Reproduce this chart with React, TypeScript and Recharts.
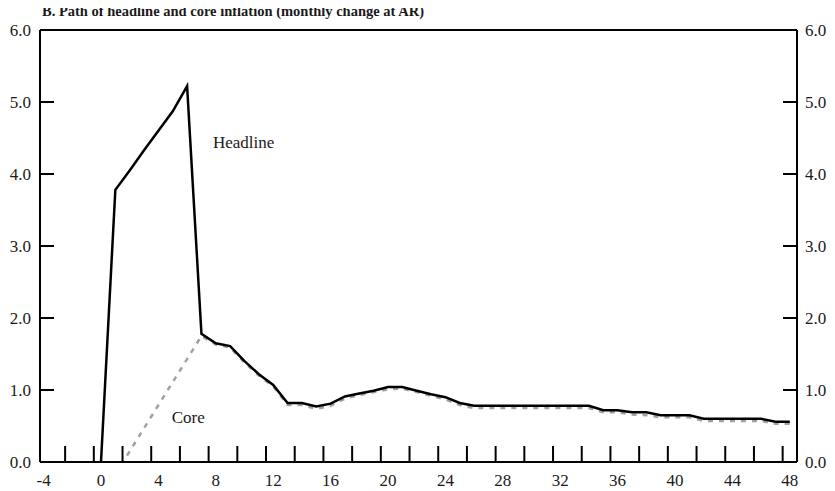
import React from 'react';
import { LineChart, Line, XAxis, YAxis, ReferenceLine, ReferenceDot } from 'recharts';

const months = [0, 1, 2, 3, 4, 5, 6, 7, 8, 9, 10, 11, 12, 13, 14, 15, 16, 17, 18, 19, 20, 21, 22, 23, 24, 25, 26, 27, 28, 29, 30, 31, 32, 33, 34, 35, 36, 37, 38, 39, 40, 41, 42, 43, 44, 45, 46, 47, 48];

const headline = [0, 3.78, 4.05, 4.33, 4.6, 4.87, 5.22, 1.78, 1.65, 1.61, 1.4, 1.22, 1.07, 0.82, 0.82, 0.77, 0.81, 0.91, 0.95, 0.99, 1.04, 1.04, 0.99, 0.94, 0.9, 0.82, 0.78, 0.78, 0.78, 0.78, 0.78, 0.78, 0.78, 0.78, 0.78, 0.72, 0.72, 0.69, 0.69, 0.65, 0.65, 0.65, 0.6, 0.6, 0.6, 0.6, 0.6, 0.56, 0.56];

const core = [null, -0.17, 0.15, 0.47, 0.79, 1.11, 1.43, 1.75, 1.63, 1.59, 1.38, 1.2, 1.05, 0.79, 0.79, 0.74, 0.78, 0.88, 0.93, 0.97, 1.01, 1.02, 0.97, 0.92, 0.87, 0.79, 0.75, 0.75, 0.75, 0.75, 0.75, 0.75, 0.75, 0.75, 0.75, 0.69, 0.69, 0.66, 0.65, 0.62, 0.62, 0.62, 0.57, 0.57, 0.57, 0.57, 0.57, 0.53, 0.53];

const xLabelTicks = [-4, 0, 4, 8, 12, 16, 20, 24, 28, 32, 36, 40, 44, 48];
const xMarkTicks = [-2.5, -0.5, 1.5, 3.5, 5.5, 7.5, 9.5, 11.5, 13.5, 15.5, 17.5, 19.5, 21.5, 23.5, 25.5, 27.5, 29.5, 31.5, 33.5, 35.5, 37.5, 39.5, 41.5, 43.5, 45.5, 47.5];
const yTicks = [0, 1, 2, 3, 4, 5, 6];

const title = 'B. Path of headline and core inflation (monthly change at AR)';

const data = months.map((m, i) => ({ month: m, headline: headline[i], core: core[i] }));

const FONT = '"Liberation Serif", "Times New Roman", serif';
const INK = '#1a1a1a';

const XTick = (props: any) => {
  const { x, y, payload } = props;
  const v = payload.value;
  if (Number.isInteger(v)) {
    return (
      <text x={x} y={y + 24} textAnchor="middle" fontFamily={FONT} fontSize={17} fill={INK}>
        {String(v)}
      </text>
    );
  }
  return <line x1={x} x2={x} y1={y} y2={y - 16} stroke="#000" strokeWidth={2} />;
};

const LeftTick = (props: any) => {
  const { x, y, payload } = props;
  return (
    <g>
      <line x1={x} x2={x + 14} y1={y} y2={y} stroke="#000" strokeWidth={2} />
      <text x={x - 9} y={y} dy="0.33em" textAnchor="end" fontFamily={FONT} fontSize={17} fill={INK}>
        {payload.value.toFixed(1)}
      </text>
    </g>
  );
};

const RightTick = (props: any) => {
  const { x, y, payload } = props;
  return (
    <g>
      <line x1={x} x2={x - 14} y1={y} y2={y} stroke="#000" strokeWidth={2} />
      <text x={x + 8} y={y} dy="0.33em" textAnchor="start" fontFamily={FONT} fontSize={17} fill={INK}>
        {payload.value.toFixed(1)}
      </text>
    </g>
  );
};

const annot = (text: string) => (props: any) => {
  const vb = props.viewBox || {};
  return (
    <text x={vb.x} y={vb.y} dy="0.33em" textAnchor="start" fontFamily={FONT} fontSize={17} fill={INK}>
      {text}
    </text>
  );
};

export default function App() {
  return (
    <div style={{ position: 'relative', width: 827, height: 483 }}>
      <div
        style={{
          position: 'absolute',
          left: 34,
          top: -4,
          fontFamily: FONT,
          fontWeight: 'bold',
          fontSize: 14.5,
          lineHeight: '14px',
          color: INK,
          whiteSpace: 'nowrap',
          zIndex: 2,
        }}
      >
        {title}
      </div>
      <LineChart width={827} height={483} data={data} margin={{ top: 22, right: 0, bottom: 0, left: 0 }}>
        <XAxis
          type="number"
          dataKey="month"
          domain={[-4.25, 48.5]}
          ticks={[...xLabelTicks, ...xMarkTicks]}
          interval={0}
          allowDataOverflow
          height={29}
          tickSize={0}
          tickMargin={0}
          tickLine={false}
          tick={XTick}
          axisLine={{ stroke: '#000', strokeWidth: 2 }}
        />
        <YAxis
          yAxisId="l"
          domain={[0, 6]}
          ticks={yTicks}
          interval={0}
          allowDataOverflow
          width={32}
          tickSize={0}
          tickMargin={0}
          tickLine={false}
          tick={LeftTick}
          axisLine={{ stroke: '#000', strokeWidth: 2 }}
        />
        <YAxis
          yAxisId="r"
          orientation="right"
          domain={[0, 6]}
          ticks={yTicks}
          interval={0}
          allowDataOverflow
          width={38}
          tickSize={0}
          tickMargin={0}
          tickLine={false}
          tick={RightTick}
          axisLine={{ stroke: '#000', strokeWidth: 2 }}
        />
        <ReferenceLine yAxisId="l" y={6} stroke="#000" strokeWidth={2} />
        <Line
          yAxisId="l"
          type="linear"
          dataKey="core"
          stroke="#a0a0a0"
          strokeWidth={2.5}
          strokeDasharray="5 6"
          dot={false}
          activeDot={false}
          isAnimationActive={false}
        />
        <Line
          yAxisId="l"
          type="linear"
          dataKey="headline"
          stroke="#000"
          strokeWidth={2.5}
          dot={false}
          activeDot={false}
          isAnimationActive={false}
        />
        <ReferenceDot yAxisId="l" x={7.8} y={4.44} r={0} fill="none" stroke="none" label={annot('Headline')} />
        <ReferenceDot yAxisId="l" x={4.93} y={0.625} r={0} fill="none" stroke="none" label={annot('Core')} />
      </LineChart>
    </div>
  );
}
